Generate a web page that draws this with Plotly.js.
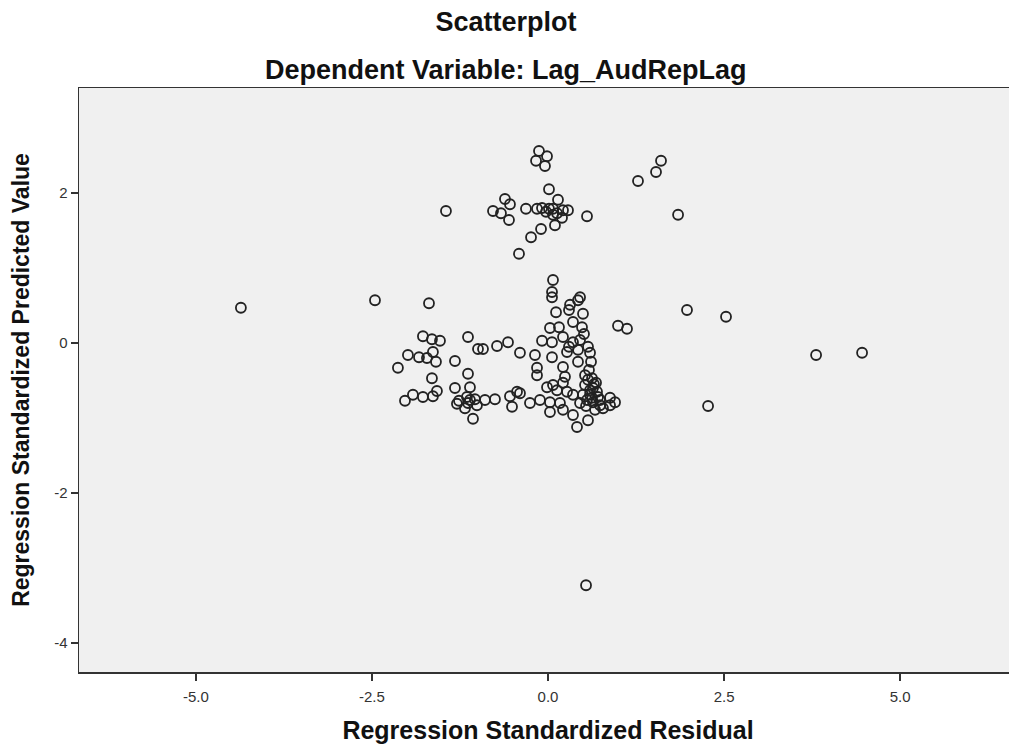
<!DOCTYPE html>
<html>
<head>
<meta charset="utf-8">
<script src="https://cdn.plot.ly/plotly-3.0.1.min.js"></script>
<style>
html,body{margin:0;padding:0;overflow:hidden;background:#fff;}
#chart{width:1018px;height:744px;}
</style>
</head>
<body>
<div id="chart"></div>
<script>
// Regression Standardized Residual (x) and Regression Standardized Predicted Value (y)
var residual = [
 -0.128,-0.014,-0.170,-0.043,0.014,-1.449,-0.611,-0.540,-0.781,-0.668,
 -0.554,-0.313,-0.156,-0.085,0.014,0.071,0.142,0.128,0.213,0.284,
 0.199,0.071,0.099,-0.099,-0.241,-0.412,0.554,1.278,1.534,1.605,
 1.847,-0.028,
 1.974,2.528,0.994,1.122,3.807,4.460,2.273,0.540,-4.361,-2.457,-1.690,
 0.071,0.057,0.057,0.455,0.426,0.313,0.298,0.114,0.497,0.355,
 0.028,0.156,0.483,0.511,0.213,-0.085,0.057,0.355,0.455,0.568,0.298,
 -0.185,0.057,0.270,0.426,0.597,-0.156,-0.156,0.213,0.426,0.241,
 0.213,0.526,0.568,0.526,0.639,-0.014,0.071,0.128,0.270,0.355,
 0.497,0.597,0.554,0.639,0.455,0.710,0.881,0.952,0.881,0.781,
 0.668,-0.256,-0.114,0.028,0.170,0.028,0.213,0.355,0.568,0.412,
 0.739,-0.398,
 0.625,0.682,0.597,0.696,0.625,0.739,0.540,0.653,0.582,0.611,
 -1.776,-1.648,-1.534,-1.136,-0.994,-0.923,-0.724,-0.568,-0.398,
 -1.989,-1.832,-1.719,-1.591,-1.634,-2.131,-1.321,-1.648,-1.136,
 -1.321,-1.108,-2.031,-1.918,-1.776,-1.634,-1.577,-1.293,-1.264,
 -1.151,-1.136,-1.037,-1.009,-1.179,-0.895,-0.753,-0.540,-0.440,
 -0.511,-1.065,-1.108
];
var predicted = [
 2.56,2.49,2.43,2.36,2.05,1.76,1.92,1.85,1.76,1.73,
 1.64,1.79,1.79,1.80,1.79,1.79,1.91,1.73,1.77,1.77,
 1.67,1.71,1.57,1.52,1.41,1.19,1.69,2.16,2.28,2.43,
 1.71,1.75,
 0.44,0.35,0.23,0.19,-0.16,-0.13,-0.84,-3.23,0.47,0.57,0.53,
 0.84,0.68,0.61,0.61,0.57,0.51,0.44,0.41,0.39,0.28,
 0.20,0.21,0.21,0.12,0.08,0.03,0.01,0.01,0.04,-0.05,-0.05,
 -0.16,-0.19,-0.12,-0.09,-0.13,-0.33,-0.43,-0.32,-0.25,-0.45,
 -0.53,-0.43,-0.49,-0.56,-0.60,-0.59,-0.56,-0.63,-0.65,-0.69,
 -0.69,-0.69,-0.76,-0.79,-0.80,-0.72,-0.73,-0.79,-0.83,-0.87,
 -0.89,-0.80,-0.76,-0.79,-0.80,-0.92,-0.89,-0.96,-1.03,-1.12,
 -0.83,-0.67,
 -0.47,-0.53,-0.63,-0.65,-0.73,-0.76,-0.84,-0.55,-0.36,-0.25,
 0.09,0.05,0.03,0.08,-0.08,-0.08,-0.04,0.01,-0.13,
 -0.16,-0.19,-0.20,-0.25,-0.12,-0.33,-0.24,-0.47,-0.41,
 -0.60,-0.59,-0.77,-0.69,-0.72,-0.71,-0.64,-0.81,-0.77,
 -0.72,-0.80,-0.75,-0.83,-0.87,-0.76,-0.75,-0.71,-0.65,
 -0.85,-1.01,-0.76
];
var xTickVals = [-5, -2.5, 0, 2.5, 5];
var xTickText = ["-5.0", "-2.5", "0.0", "2.5", "5.0"];
var yTickVals = [-4, -2, 0, 2];
var yTickText = ["-4", "-2", "0", "2"];

var FONT = "Liberation Sans, Arial, sans-serif";
var trace = {
  x: residual, y: predicted, type: "scatter", mode: "markers",
  marker: {symbol: "circle-open", size: 10, color: "#222", line: {width: 1.8, color: "#222"}},
  hoverinfo: "x+y", showlegend: false
};
var layout = {
  width: 1018, height: 744,
  margin: {l: 79, r: 1, t: 88, b: 72},
  paper_bgcolor: "#ffffff", plot_bgcolor: "#f0f0f0",
  font: {family: FONT, color: "#111"},
  title: {text: "Scatterplot", font: {family: FONT, size: 27, weight: "bold", color: "#111"},
          x: 506 / 1018, xref: "container", xanchor: "center", y: 1 - 22 / 744, yref: "container", yanchor: "middle"},
  annotations: [{
    text: "Dependent Variable: Lag_AudRepLag", showarrow: false,
    xref: "paper", yref: "paper", x: (506 - 79) / 938, y: (672 - 70) / 584, xanchor: "center", yanchor: "middle",
    font: {family: FONT, size: 27, weight: "bold", color: "#111"}
  }],
  xaxis: {
    range: [-6.66, 6.66], tickvals: xTickVals, ticktext: xTickText,
    showgrid: false, zeroline: false, showline: true, mirror: true, linecolor: "#333", linewidth: 1.5,
    ticks: "outside", ticklen: 7, tickwidth: 1.2, tickcolor: "#333", ticklabelstandoff: 3,
    tickfont: {family: FONT, size: 15, color: "#333"},
    title: {text: "Regression Standardized Residual", font: {family: FONT, size: 25, weight: "bold", color: "#111"}, standoff: 19}
  },
  yaxis: {
    range: [-4.387, 3.4], tickvals: yTickVals, ticktext: yTickText,
    showgrid: false, zeroline: false, showline: true, mirror: true, linecolor: "#333", linewidth: 1.5,
    ticks: "outside", ticklen: 7, tickwidth: 1.2, tickcolor: "#333",
    tickfont: {family: FONT, size: 15, color: "#333"},
    title: {text: "Regression Standardized Predicted Value", font: {family: FONT, size: 23, weight: "bold", color: "#111"}, standoff: 18}
  }
};
Plotly.newPlot("chart", [trace], layout, {displayModeBar: false, staticPlot: true});
</script>
</body>
</html>
